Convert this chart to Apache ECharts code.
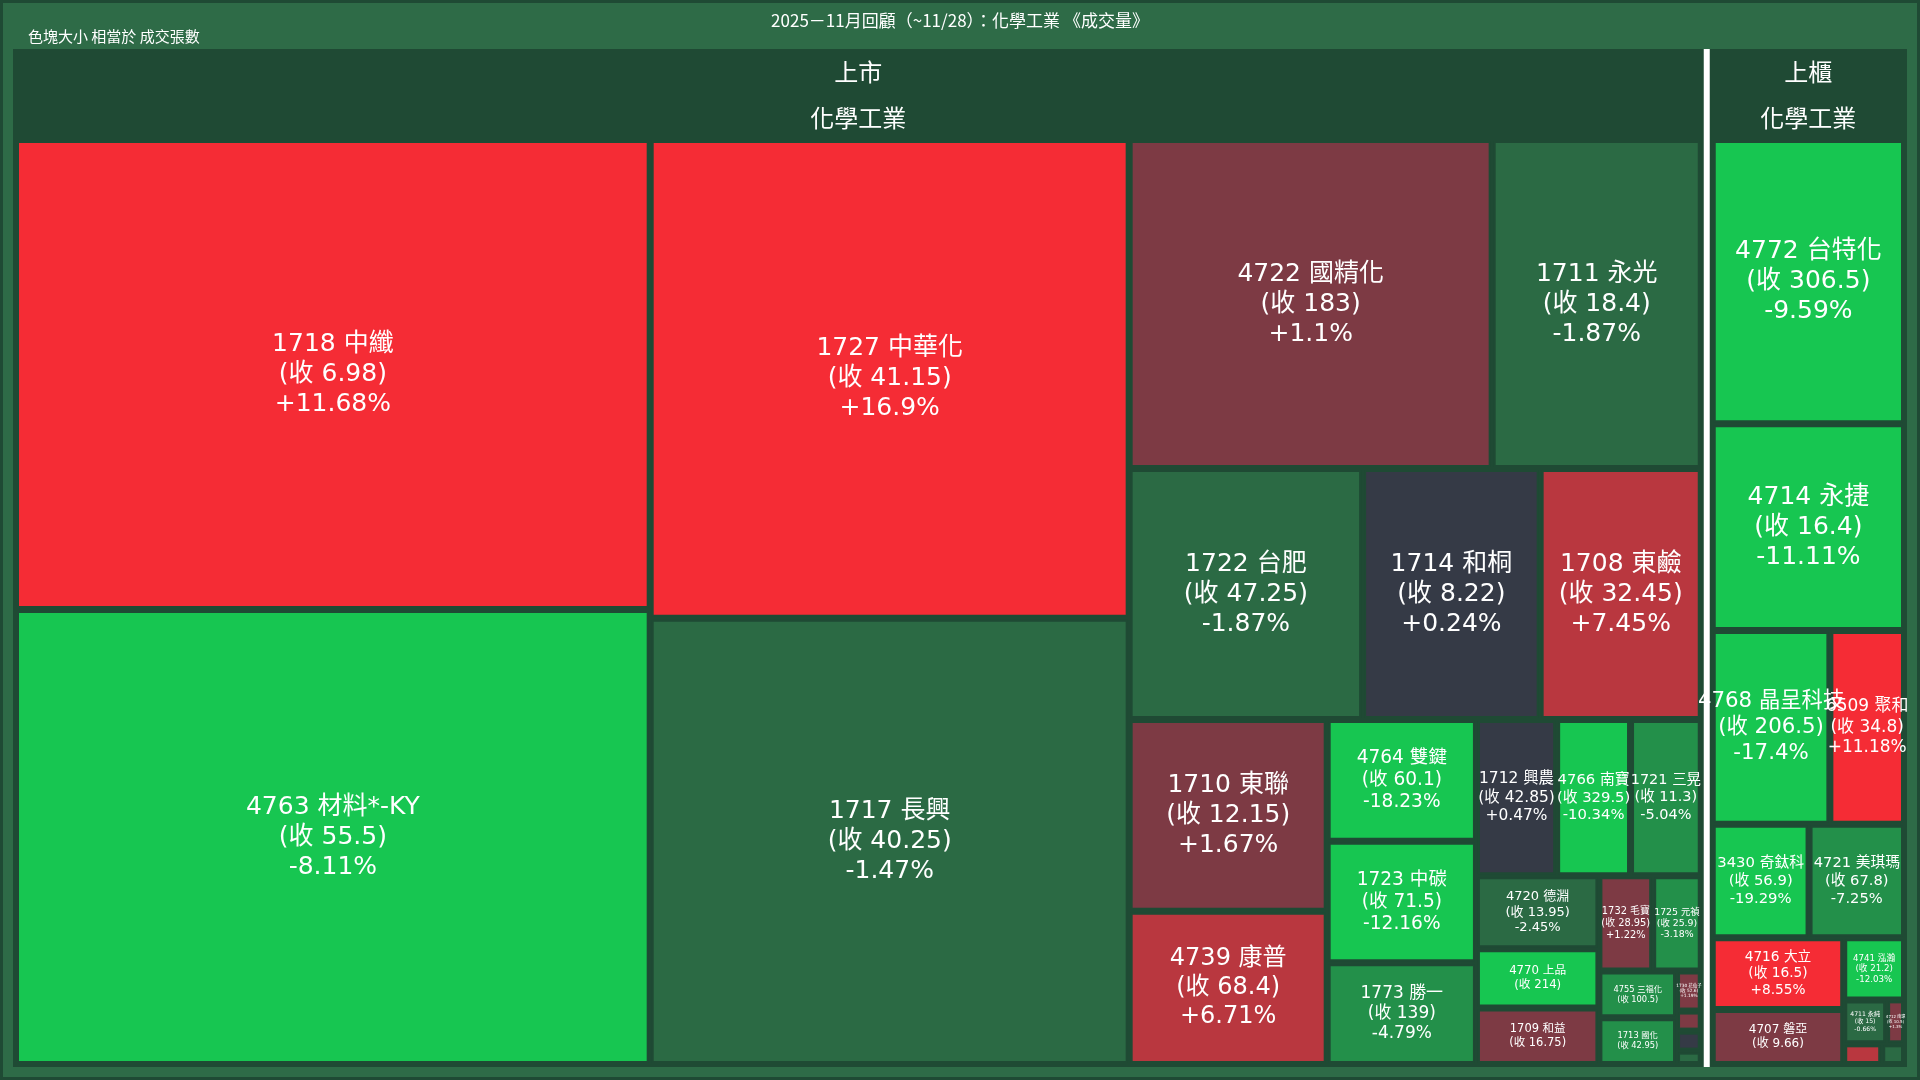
<!DOCTYPE html>
<html>
<head>
<meta charset="utf-8">
<title>化學工業 成交量</title>
<script src="https://cdn.jsdelivr.net/npm/echarts@6/dist/echarts.min.js"></script>
<style>
  html, body { margin: 0; padding: 0; background: #2e6b47; }
  #main { width: 1920px; height: 1080px; box-sizing: border-box; border: 3px solid #1f4a34; }
</style>
</head>
<body>
<div id="main"></div>
<script>
// 上市 化學工業
var twseNames  = ['1718 中纖', '4763 材料*-KY', '1727 中華化', '1717 長興', '4722 國精化', '1711 永光', '1722 台肥', '1714 和桐', '1708 東鹼', '1710 東聯', '4739 康普', '1723 中碳', '4764 雙鍵', '1773 勝一', '1712 興農', '1721 三晃', '4766 南寶', '4720 德淵', '4770 上品', '1732 毛寶', '1725 元禎', '1709 和益', '1713 國化', '4755 三福化', '1730 花仙子', '1724 台硝', '1726 永記', '1735 日勝化'];
var twseClose  = [6.98, 55.5, 41.15, 40.25, 183, 18.4, 47.25, 8.22, 32.45, 12.15, 68.4, 71.5, 60.1, 139, 42.85, 11.3, 329.5, 13.95, 214, 28.95, 25.9, 16.75, 42.95, 100.5, 52.6, 20.5, 60.2, 12.3];
var twseChg    = [11.68, -8.11, 16.9, -1.47, 1.1, -1.87, -1.87, 0.24, 7.45, 1.67, 6.71, -12.16, -18.23, -4.79, 0.47, -5.04, -10.34, -2.45, -13.71, 1.22, -3.18, 0.6, -4.45, -7.37, 1.19, 0.3, 2.1, -1.2];
var twseVol    = [180.8, 175, 139, 129.5, 72.4, 41.7, 35.5, 27, 24.5, 23, 18.4, 11, 11, 9.2, 7.6, 6.7, 7, 5.4, 4.4, 3.1, 2.8, 4.2, 2.2, 2.2, 0.6, 0.3, 0.3, 0.2];

// 上櫃 化學工業
var tpexNames  = ['4772 台特化', '4714 永捷', '4768 晶呈科技', '6509 聚和', '4721 美琪瑪', '3430 奇鈦科', '4707 磐亞', '4716 大立', '4741 泓瀚', '4711 永純', '4706 大恭', '4712 南璋', '4738 尚化'];
var tpexClose  = [306.5, 16.4, 206.5, 34.8, 67.8, 56.9, 9.66, 16.5, 21.2, 15, 18.2, 10.5, 30.1];
var tpexChg    = [-9.59, -11.11, -17.4, 11.18, -7.25, -19.29, 2.22, 8.55, -12.03, -0.66, 4.5, 1.3, -2.1];
var tpexVol    = [34.8, 25.3, 14.5, 9.2, 6.9, 7, 4.6, 6, 2.4, 1.2, 0.5, 0.5, 0.3];

function colorOf(c) {
  if (c >= 8) return '#f52c35';
  if (c >= 3) return '#b9373f';
  if (c >= 0.5) return '#7d3a44';
  if (c > -0.5) return '#353a46';
  if (c > -3) return '#2b6a44';
  if (c > -8) return '#23904a';
  return '#17c651';
}

function buildLeaves(names, close, chg, vol) {
  return names.map(function (n, i) {
    var fs = Math.max(4, Math.min(25, 5.6 * Math.sqrt(vol[i])));
    var sign = chg[i] > 0 ? '+' : '';
    return {
      name: n,
      value: vol[i],
      itemStyle: { color: colorOf(chg[i]) },
      label: {
        fontSize: fs,
        lineHeight: fs * 1.2,
        formatter: n + '\n(收 ' + close[i] + ')\n' + sign + chg[i] + '%'
      }
    };
  });
}

var chart = echarts.init(document.getElementById('main'));

var option = {
  backgroundColor: '#2e6b47',
  title: [{
    text: '2025－11月回顧（~11/28）：化學工業 《成交量》',
    left: 'center', top: 4,
    textStyle: { color: '#ffffff', fontSize: 17, fontWeight: 'normal', fontFamily: 'Noto Sans CJK TC' }
  }, {
    text: '色塊大小 相當於 成交張數',
    left: 20, top: 21,
    textStyle: { color: '#ffffff', fontSize: 15, fontWeight: 'normal', fontFamily: 'Noto Sans CJK TC' }
  }],
  series: [{
    type: 'treemap',
    left: 10, right: 10, top: 46, bottom: 10,
    roam: false,
    nodeClick: false,
    breadcrumb: { show: false },
    animation: false,
    label: {
      show: true, color: '#ffffff', align: 'center', verticalAlign: 'middle',
      position: 'inside', overflow: 'none',
      fontFamily: 'Verdana, DejaVu Sans, Noto Sans CJK TC'
    },
    upperLabel: {
      show: true, height: 46, color: '#ffffff', fontSize: 24, position: 'inside',
      fontFamily: 'Noto Sans CJK TC'
    },
    levels: [
      { itemStyle: { borderWidth: 0, gapWidth: 6 }, upperLabel: { show: false } },
      { itemStyle: { borderColor: '#1f4a34', borderWidth: 2, gapWidth: 8 } },
      { itemStyle: { borderColor: '#1f4a34', borderWidth: 2, gapWidth: 3 } },
      { itemStyle: { borderColor: '#1f4a34', borderWidth: 2, gapWidth: 0 }, upperLabel: { show: false } }
    ],
    data: [{
      name: '上市',
      itemStyle: { color: '#2e6b47' },
      children: [{
        name: '化學工業',
        itemStyle: { color: '#2e6b47' },
        children: buildLeaves(twseNames, twseClose, twseChg, twseVol)
      }]
    }, {
      name: '上櫃',
      itemStyle: { color: '#17c651' },
      children: [{
        name: '化學工業',
        itemStyle: { color: '#17c651' },
        children: buildLeaves(tpexNames, tpexClose, tpexChg, tpexVol)
      }]
    }]
  }]
};
chart.setOption(option);
</script>
</body>
</html>
